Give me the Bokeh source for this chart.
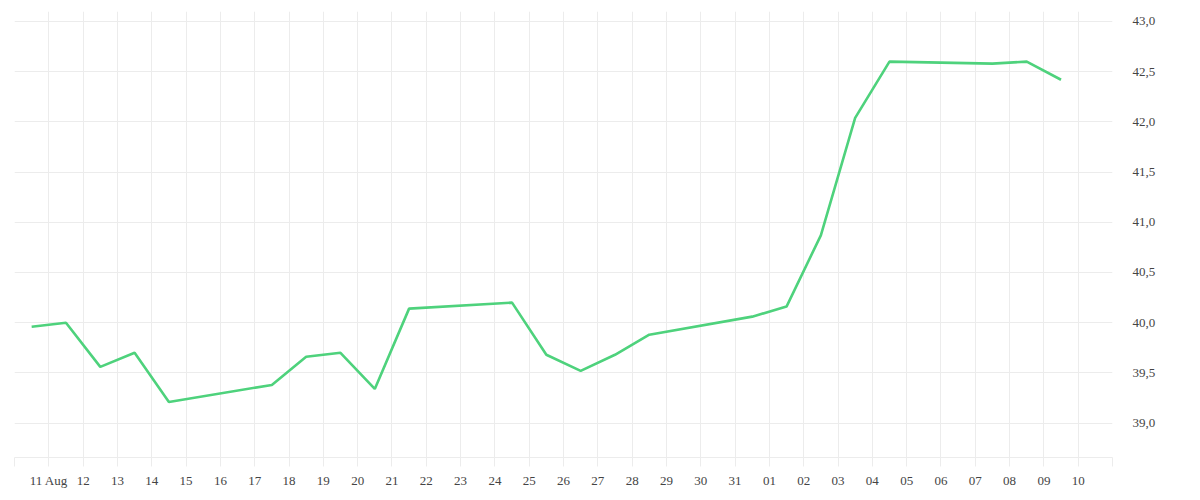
from datetime import datetime
from bokeh.plotting import figure
from bokeh.models import FixedTicker, Range1d
from bokeh.embed import file_html
from bokeh.resources import INLINE

# ---- data ----
dates = ["2020-08-10", "2020-08-11", "2020-08-12", "2020-08-13", "2020-08-14",
         "2020-08-17", "2020-08-18", "2020-08-19", "2020-08-20", "2020-08-21",
         "2020-08-24", "2020-08-25", "2020-08-26", "2020-08-27", "2020-08-28",
         "2020-08-31", "2020-09-01", "2020-09-02", "2020-09-03", "2020-09-04",
         "2020-09-07", "2020-09-08", "2020-09-09"]
values = [39.96, 40.00, 39.56, 39.70, 39.21,
          39.38, 39.66, 39.70, 39.34, 40.14,
          40.20, 39.68, 39.52, 39.68, 39.88,
          40.06, 40.16, 40.87, 42.04, 42.60,
          42.58, 42.60, 42.42]

x_tick_dates = ["2020-08-10", "2020-08-11", "2020-08-12", "2020-08-13", "2020-08-14",
                "2020-08-15", "2020-08-16", "2020-08-17", "2020-08-18", "2020-08-19",
                "2020-08-20", "2020-08-21", "2020-08-22", "2020-08-23", "2020-08-24",
                "2020-08-25", "2020-08-26", "2020-08-27", "2020-08-28", "2020-08-29",
                "2020-08-30", "2020-08-31", "2020-09-01", "2020-09-02", "2020-09-03",
                "2020-09-04", "2020-09-05", "2020-09-06", "2020-09-07", "2020-09-08",
                "2020-09-09", "2020-09-10", "2020-09-11"]
x_tick_labels = ["", "11 Aug", "12", "13", "14", "15", "16", "17", "18", "19",
                 "20", "21", "22", "23", "24", "25", "26", "27", "28", "29",
                 "30", "31", "01", "02", "03", "04", "05", "06", "07", "08",
                 "09", "10", ""]

y_ticks = [39.0, 39.5, 40.0, 40.5, 41.0, 41.5, 42.0, 42.5, 43.0]
y_tick_labels = ["39,0", "39,5", "40,0", "40,5", "41,0", "41,5", "42,0", "42,5", "43,0"]

# ---- helpers ----
def ms(s, hour=0):
    d = datetime.strptime(s, "%Y-%m-%d").replace(hour=hour)
    return (d - datetime(1970, 1, 1)).total_seconds() * 1000.0

xs = [ms(d, 12) for d in dates]
xt = [ms(d) for d in x_tick_dates]

FONT = "Liberation Serif"
GRID = "#ececec"
LABEL = "#444444"

p = figure(width=1191, height=491, x_axis_type="datetime",
           x_range=Range1d(xt[0], xt[-1]), y_range=Range1d(38.657, 43.0996),
           output_backend="svg", toolbar_location=None,
           y_axis_location="right",
           min_border_left=14, min_border_top=11, min_border_right=79, min_border_bottom=34)
p.outline_line_color = None
p.background_fill_color = "white"
p.border_fill_color = "white"

p.line(xs, values, line_color="#4ed27c", line_width=2.6)

# x axis
xa = p.xaxis[0]
xa.ticker = FixedTicker(ticks=xt, minor_ticks=[])
xa.major_label_overrides = {t: l for t, l in zip(xt, x_tick_labels)}
xa.axis_line_color = GRID
xa.major_tick_line_color = GRID
xa.major_tick_out = 9
xa.major_tick_in = 0
xa.minor_tick_line_color = None
xa.major_label_text_font = FONT
xa.major_label_text_font_size = "13px"
xa.major_label_text_color = LABEL
xa.major_label_standoff = 6

# y axis
ya = p.yaxis[0]
ya.ticker = FixedTicker(ticks=y_ticks, minor_ticks=[])
ya.major_label_overrides = {t: l for t, l in zip(y_ticks, y_tick_labels)}
ya.axis_line_color = None
ya.major_tick_line_color = None
ya.minor_tick_line_color = None
ya.major_label_text_font = FONT
ya.major_label_text_font_size = "13px"
ya.major_label_text_color = LABEL
ya.major_label_standoff = 14

p.xgrid.grid_line_color = GRID
p.ygrid.grid_line_color = GRID
p.xgrid.ticker = FixedTicker(ticks=xt)
p.ygrid.ticker = FixedTicker(ticks=y_ticks)

open("out.html", "w").write(file_html(p, INLINE))
